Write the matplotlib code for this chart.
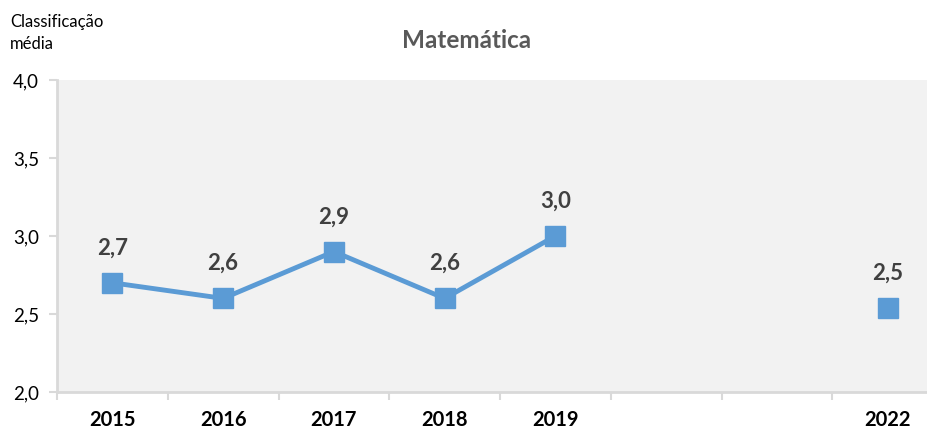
import matplotlib
matplotlib.use("Agg")
import matplotlib.pyplot as plt
import numpy as np

years = ["2015", "2016", "2017", "2018", "2019", "2020", "2021", "2022"]
year_labels = ["2015", "2016", "2017", "2018", "2019", "", "", "2022"]
values = [2.7, 2.6, 2.9, 2.6, 3.0, np.nan, np.nan, 2.54]
value_labels = ["2,7", "2,6", "2,9", "2,6", "3,0", "", "", "2,5"]
y_ticks = [2.0, 2.5, 3.0, 3.5, 4.0]
y_tick_labels = ["2,0", "2,5", "3,0", "3,5", "4,0"]

plt.rcParams['font.family'] = ['Lato', 'DejaVu Sans']

fig = plt.figure(figsize=(9.28, 4.32), dpi=100)
ax = fig.add_axes([57/928, 40/432, 886/928, 312/432])
ax.set_facecolor("#f2f2f2")

blue = "#5b9bd5"
x = np.arange(len(years))
ax.plot(x, values, color=blue, lw=3.5, marker="s", ms=14, mfc=blue, mec=blue, zorder=3)

for xi, v, lab in zip(x, values, value_labels):
    if lab:
        ax.annotate(lab, (xi, v), xytext=(0, 25), textcoords="offset points",
                    ha="center", va="center", fontsize=16, fontweight="bold", color="#404040")

ax.set_xlim(-0.5, len(years) - 0.5)
ax.set_ylim(2.0, 4.0)
ax.set_yticks(y_ticks)
ax.set_yticklabels(y_tick_labels, fontsize=13.5, color="#000000")
ax.set_xticks(np.arange(-0.5, len(years) - 0.5, 1.0))
ax.set_xticklabels([])
ax.set_xticks(x, minor=True)
ax.set_xticklabels(year_labels, minor=True, fontsize=14.5, fontweight="bold")
ax.tick_params(axis="x", which="minor", length=0, pad=13)
ax.tick_params(axis="x", which="major", length=6, width=1.5, color="#d9d9d9")
ax.tick_params(axis="y", length=6, width=1.5, color="#d9d9d9", pad=7)

for s in ["top", "right"]:
    ax.spines[s].set_visible(False)
for s in ["left", "bottom"]:
    ax.spines[s].set_color("#d9d9d9")
    ax.spines[s].set_linewidth(2)

fig.text(467/928, 1 - 40/432, "Matemática", ha="center", va="center",
         fontsize=17.5, fontweight="bold", color="#595959")
fig.text(10/928, 1 - 33/432, "Classificação\nmédia", ha="left", va="center",
         fontsize=12, color="#000000", linespacing=1.45)

fig.savefig("out.png", dpi=100)
